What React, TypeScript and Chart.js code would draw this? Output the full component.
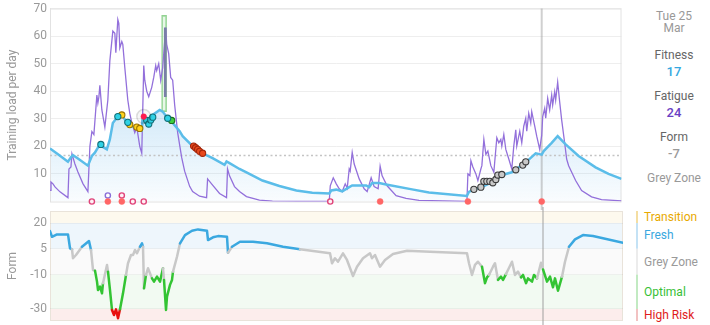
import React, { useEffect, useRef } from 'react';
import { Chart, registerables } from 'chart.js';

Chart.register(...registerables);

const FONT = "Roboto, 'Noto Sans', 'Liberation Sans', sans-serif";

// x = day index from the first day shown
const DAY_MAX = 286.5;
const HOVER_DAY = 246.5;
const HOVER_DATE = ['Tue 25', 'Mar'];
const FITNESS_NOW = 17;
const FATIGUE_NOW = 24;
const FORM_NOW = -7;
const ZONE_NOW = 'Grey Zone';

// Fatigue (ATL) – [day, load]
const fatigue: [number, number][] = [
  [0, 4.0], [0.5, 7.1], [1.5, 6.4], [2.5, 5.3], [5, 3.5], [9, 1.4], [9.5, 11.8], [10.5, 12.5], [11, 17.3],
  [12.5, 13.6], [14, 10.7], [16.5, 6.5], [19, 3.6], [20, 20], [21, 25.4], [22, 24.3], [23.5, 38.6], [24, 35.7],
  [24.5, 37.9], [25, 42.1], [26, 33.2], [27.5, 27], [29, 36.8], [30, 51], [31.5, 61.8], [32.5, 61], [33, 54],
  [34, 66], [34.5, 64.6], [35, 55.7], [36, 58], [36.5, 57], [37.5, 48.6], [39, 36.8], [40, 32], [41, 28.6],
  [42.5, 25], [43.5, 27], [45, 20], [46, 17.5], [47, 49.3], [47.5, 44], [48.5, 40], [49.5, 38], [51, 41.4],
  [52, 45], [53, 49.3], [53.5, 47.5], [54.5, 50], [55.5, 44], [56.5, 48.6], [58, 63], [58.5, 57], [59.5, 53.6],
  [60.5, 45], [61.5, 44], [62.5, 35], [64, 25], [66, 16], [67.5, 11], [70, 5.5], [71.5, 3.6], [75, 1.9],
  [78.5, 1.4], [79, 8.2], [81, 6.4], [85, 2.9], [88.5, 1.4], [89, 11.8], [90, 9.3], [92.5, 5.4], [95, 3.6],
  [98.5, 1.8], [105, 0.5], [111.5, 0.1], [140, 0], [140.5, 5.7], [142, 8.6], [143.5, 6.4], [145, 4.6],
  [146.5, 3.6], [148, 6.4], [149, 4.8], [150, 11.8], [150.5, 11], [151.5, 17.8], [152.5, 13.6], [155, 8.2],
  [157.5, 4.6], [159, 3.6], [161, 8.6], [162.5, 5.4], [164.5, 4.6], [165.5, 12.8], [166.5, 9.3], [169, 5.7],
  [173.5, 2.1], [178.5, 1.1], [185, 0.4], [209, 0], [209.5, 10], [210.5, 9.4], [211, 14.8], [212, 12.5],
  [213.5, 10], [214.5, 7.6], [216, 11.8], [216.5, 13], [217.5, 22.5], [218.5, 17.1], [219.5, 18.3], [221, 13],
  [222.5, 10.6], [224, 23.1], [225, 21.3], [226, 22.5], [226.5, 20.1], [227.5, 24.3], [228.5, 18.9], [230, 15.4],
  [231.5, 11.8], [232.5, 20.1], [233.5, 26], [234, 20.1], [235.5, 25.5], [236.5, 21.3], [237.5, 27.3],
  [238.5, 30.2], [239, 25.5], [240, 32], [241, 28.5], [241.5, 32.6], [243, 27.3], [244, 23.7], [245.5, 18.9],
  [246.5, 24], [247, 30.8], [248, 33.8], [248.5, 30.2], [249.5, 37.4], [250.5, 33.2], [251.5, 38.6], [252, 35],
  [253, 39.8], [253.5, 36.8], [254.5, 43.3], [255.5, 36.2], [256.5, 29.6], [258, 21.3], [259, 15.4], [260, 13],
  [263.5, 7.6], [266.5, 4], [271.5, 1.7], [276.5, 0.7], [286.5, 0.2],
];

// Fitness (CTL) – [day, load]
const fitness: [number, number][] = [
  [0, 19.2], [4, 17.1], [9, 14.4], [10.5, 16], [11.5, 16.8], [14, 15.6], [19, 13], [21, 16.5], [22.5, 17.7],
  [25, 20.7], [26.5, 19.8], [28.5, 18.9], [30, 22.5], [31.5, 28.5], [34, 30.8], [36, 31.4], [38.5, 28.7],
  [41, 27.3], [46, 25.8], [46.5, 30.8], [48.5, 29.4], [49.5, 27.9], [51.5, 31.4], [55, 33.2], [56.5, 32.6],
  [59, 30.2], [61.5, 28.5], [65, 25.5], [66.5, 23.7], [71.5, 20.1], [75, 19.2], [76.5, 17.5], [81.5, 15.7],
  [87.5, 13.3], [88.5, 14.5], [90, 13.9], [95, 11.8], [98.5, 10.6], [106.5, 7.6], [115, 5.6], [123.5, 4],
  [131.5, 3.2], [140, 2.9], [141, 4], [143.5, 4.3], [146.5, 3.7], [150, 5.2], [151.5, 5.8], [158.5, 5.8],
  [160, 5.2], [161.5, 6.7], [165, 6.7], [168.5, 6.2], [181.5, 4.4], [190, 3.3], [209, 2.0], [210, 3.5],
  [212.5, 4.4], [216.5, 5.2], [220, 6.5], [223.5, 8.2], [228.5, 10], [231.5, 10.6], [238.5, 14.2], [243.5, 17.5],
  [246.5, 17], [247.5, 18.3], [251.5, 21.3], [254.5, 23.7], [258.5, 20.7], [265, 16.5], [273.5, 12.4],
  [280, 10], [286.5, 8.2],
];

// Form (TSB) – [day, form]
const form: [number, number][] = [
  [0, 15.3], [1, 12], [3.5, 13.4], [9, 13.4], [10, 5.3], [11, 4.7], [11.5, -0.5], [13, 1.4], [16, 6.2],
  [19.5, 9.5], [20.5, 4.3], [21.5, -7.3], [22.5, -7.7], [23.5, -14.1], [24, -19], [25, -17], [26, -20.9],
  [26.5, -15], [28.5, -4.4], [29, -8.3], [30, -19], [31, -30.6], [32, -33.5], [33, -30.2], [34, -35.4],
  [35, -30.2], [36.5, -20.9], [38, -10.2], [39, -3.4], [40.5, 1.4], [41.5, 1.4], [42.5, 4.3], [43.5, 2.4],
  [45, 6.2], [46, 8.2], [46.5, 6.2], [47, -18], [48, -10.2], [49, -6.3], [51, -12.2], [52, -14.1],
  [53.5, -11.2], [55, -14.1], [56.5, -6.3], [57, -13.1], [58, -30.6], [58.5, -22.8], [60, -16], [61, -13.1],
  [61.5, -8.3], [63.5, 0.4], [65, 8.2], [67.5, 13], [71, 15.5], [74, 16.3], [78.5, 15.5], [79, 10.1],
  [81.5, 11.7], [84, 12.4], [88.5, 12], [89, 2.7], [91, 6.2], [95, 9.1], [101.5, 9.1], [108.5, 8.2],
  [116.5, 6.2], [125, 4.7], [140, 2.4], [141, -3.4], [142.5, -0.5], [144, -2.5], [146.5, 2.4], [148.5, -1.5],
  [151.5, -10.8], [153.5, -5.4], [156.5, -0.5], [160, 2.4], [161, -0.5], [162.5, 1.4], [165, -5.4],
  [167.5, -1.5], [171.5, 2], [178.5, 3.9], [190, 3.3], [208.5, 2.4], [209.5, -3.4], [211, -10.2], [212.5, -4.4],
  [214, -2.5], [216, -5.4], [217.5, -15], [218.5, -11.6], [219.5, -10.2], [221.5, -5.4], [222.5, -3.4],
  [224, -13.1], [225.5, -11.2], [226.5, -13.1], [228, -9.7], [231, -2.5], [232.5, -10.2], [234, -8.3],
  [235.5, -11.6], [236.5, -10.2], [238, -15], [239, -12.2], [241, -14.1], [242, -10.2], [243.5, -12.2],
  [245.5, -3.1], [246.5, -7], [248.5, -14.1], [250, -11.2], [251.5, -17.4], [252.5, -12.2], [254, -19.4],
  [256, -11.2], [257.5, -2.5], [259.5, 6.2], [262.5, 10.5], [266.5, 13], [271.5, 12.4], [286.5, 8.5],
];

// Activity markers on the fitness line – [day, load]
const cyanMarks: [number, number][] = [
  [25.5, 20.7], [34, 30.8], [39, 28.7], [48.5, 29.4], [49.5, 28.1], [50.5, 29.6], [51.5, 30.6], [59, 30.2],
];
const yellowMarks: [number, number][] = [[36, 31.4], [40, 27.9], [43.5, 27], [45, 26.5]];
const redMarks: [number, number][] = [[47, 30.8]];
const greenMarks: [number, number][] = [[61, 29.4]];
const orangeMarks: [number, number][] = [[72, 20.1], [73, 19.5], [74, 18.9], [75, 18.2], [76.5, 17.5]];
const greyMarks: [number, number][] = [
  [212.5, 4.4], [216, 5.2], [217.5, 7.3], [219, 7.3], [220.5, 7.3], [222, 6.8], [223.5, 8], [224.5, 9.6],
  [226.5, 9.8], [233.5, 11.5], [237, 13.2], [238.5, 14.4],
];

// Event markers along the bottom – days
const eventFilledDays = [29, 36, 165.5, 209.5, 246.5];
const eventHollowDays = [21, 41.5, 47, 140.5];
const eventUpperPurpleDays = [29];
const eventUpperPinkDays = [36];

// Range bars near the peak – [day, low, high]
const rangeBar: [number, number, number] = [57.2, 32.6, 67.5];
const innerBar: [number, number, number] = [57.8, 38, 63];

const loadTicks = [10, 20, 30, 40, 50, 60, 70];
const formTicks = [20, 5, -10, -30];
const FORM_MIN = -37;
const FORM_MAX = 27;

const zoneNames = ['Transition', 'Fresh', 'Grey Zone', 'Optimal', 'High Risk'];
const zoneUpper = [27, 20, 5, -10, -30];
const zoneLower = [20, 5, -10, -30, -37];
const zoneFill = ['#fdf9ee', '#eef6fc', '#fafafa', '#f2faf2', '#fcedec'];
const zoneBar = ['#f4dea2', '#c4e2f5', '#ececec', '#c2eac2', '#f2c2c2'];
const zoneText = ['#e8a900', '#3aa8e0', '#9a9a9a', '#36bf36', '#e01b1b'];
const zoneLine = ['#e8a900', '#3aa8e0', '#c8c8c8', '#33c433', '#e81010'];

const xy = (arr: [number, number][]) => arr.map(([x, y]) => ({ x, y }));

function zoneIndex(v: number) {
  for (let i = 0; i < zoneLower.length; i++) if (v >= zoneLower[i]) return i;
  return zoneLower.length - 1;
}

function marks(data: { x: number; y: number }[], fill: string, border: string, radius = 3.1, bw = 1.1) {
  return {
    type: 'line' as const,
    data,
    showLine: false,
    pointRadius: radius,
    pointBackgroundColor: fill,
    pointBorderColor: border,
    pointBorderWidth: bw,
    clip: false as any,
  };
}

const topDecor = {
  id: 'topDecor',
  beforeDatasetsDraw(chart: any) {
    const { ctx, chartArea: a, scales } = chart;
    ctx.save();
    ctx.strokeStyle = '#e2e2e2';
    ctx.lineWidth = 1;
    ctx.strokeRect(a.left + 0.5, a.top + 0.5, a.width - 1, a.height);
    const yy = Math.round(scales.y.getPixelForValue(FITNESS_NOW)) + 0.5;
    ctx.strokeStyle = '#c4c4c4';
    ctx.lineWidth = 1.5;
    ctx.setLineDash([2, 2.5]);
    ctx.beginPath();
    ctx.moveTo(a.left, yy);
    ctx.lineTo(a.right, yy);
    ctx.stroke();
    ctx.setLineDash([]);
    const xx = scales.x.getPixelForValue(HOVER_DAY);
    ctx.strokeStyle = 'rgba(150,150,150,0.45)';
    ctx.lineWidth = 2;
    ctx.beginPath();
    ctx.moveTo(xx, a.top);
    ctx.lineTo(xx, chart.height);
    ctx.stroke();
    ctx.restore();
  },
};

const bottomDecor = {
  id: 'bottomDecor',
  beforeDraw(chart: any) {
    const { ctx, chartArea: a, scales } = chart;
    const y = scales.y;
    ctx.save();
    for (let i = 0; i < zoneNames.length; i++) {
      const t = y.getPixelForValue(zoneUpper[i]);
      const b = y.getPixelForValue(zoneLower[i]);
      ctx.fillStyle = zoneFill[i];
      ctx.fillRect(a.left, t, a.width, b - t);
      ctx.fillStyle = zoneBar[i];
      ctx.fillRect(636, t, 2, b - t);
    }
    ctx.strokeStyle = '#e9e3da';
    ctx.lineWidth = 1;
    ctx.strokeRect(a.left + 0.5, a.top + 0.5, a.width - 1, a.height - 1);
    ctx.restore();
  },
  beforeDatasetsDraw(chart: any) {
    const { ctx, scales } = chart;
    const xx = scales.x.getPixelForValue(HOVER_DAY);
    ctx.save();
    ctx.strokeStyle = 'rgba(150,150,150,0.45)';
    ctx.lineWidth = 2;
    ctx.beginPath();
    ctx.moveTo(xx, 0);
    ctx.lineTo(xx, chart.height);
    ctx.stroke();
    ctx.restore();
  },
};

const axisFont = { family: FONT, size: 12 };

function topConfig(): any {
  const bottomRow = eventFilledDays.map((d) => ({ x: d, y: 0 }));
  const hollowRow = eventHollowDays.map((d) => ({ x: d, y: 0 }));
  const upperPurple = eventUpperPurpleDays.map((d) => ({ x: d, y: 2.2 }));
  const upperPink = eventUpperPinkDays.map((d) => ({ x: d, y: 2.2 }));
  return {
    type: 'line',
    data: {
      datasets: [
        marks(bottomRow, '#ff6666', '#ff6666', 3, 0.5),
        marks(hollowRow, '#fff0f4', '#e0457b', 2.6, 1.4),
        marks(upperPurple, '#ffffff', '#8a6fd8', 2.6, 1.4),
        marks(upperPink, '#fff0f4', '#e0457b', 2.6, 1.4),
        marks(xy(redMarks), '#ff1a4f', '#ff1a4f', 2.8, 0.5),
        marks(xy(redMarks), 'rgba(0,0,0,0.03)', 'rgba(0,0,0,0.13)', 7, 1.5),
        marks(xy(cyanMarks), '#2fd2e5', '#12707a'),
        marks(xy(yellowMarks), '#ffd21a', '#9a7400'),
        marks(xy(greenMarks), '#3ecf3e', '#1c6d1c'),
        marks(xy(orangeMarks), '#e8491d', '#a3260a'),
        marks(xy(greyMarks), '#c8c8c8', '#3a3a3a'),
        {
          type: 'line',
          data: xy(fitness),
          borderColor: '#5bbde9',
          borderWidth: 2.5,
          pointRadius: 0,
          tension: 0,
          fill: 'origin',
          backgroundColor: (c: any) => {
            const { chart } = c;
            const { chartArea, ctx } = chart;
            if (!chartArea) return 'rgba(110,185,235,0.12)';
            const g = ctx.createLinearGradient(0, chart.scales.y.getPixelForValue(34), 0, chartArea.bottom);
            g.addColorStop(0, 'rgba(110,185,235,0.30)');
            g.addColorStop(1, 'rgba(110,185,235,0.04)');
            return g;
          },
        },
        {
          type: 'bar',
          data: [{ x: innerBar[0], y: [innerBar[1], innerBar[2]] }],
          barThickness: 2,
          backgroundColor: '#7a7ea8',
          borderSkipped: false,
          grouped: false,
        },
        {
          type: 'line',
          data: xy(fatigue),
          borderColor: '#9370db',
          borderWidth: 1.3,
          pointRadius: 0,
          tension: 0,
          fill: false,
        },
        {
          type: 'bar',
          data: [{ x: rangeBar[0], y: [rangeBar[1], rangeBar[2]] }],
          barThickness: 5,
          backgroundColor: 'rgba(185,232,185,0.35)',
          borderColor: 'rgba(110,195,110,0.75)',
          borderWidth: 1,
          borderSkipped: false,
          grouped: false,
        },
      ],
    },
    options: {
      responsive: false,
      animation: false,
      events: [],
      layout: { padding: { top: 7, right: 7, bottom: 7, left: 0 } },
      plugins: { legend: { display: false }, tooltip: { enabled: false }, filler: { drawTime: 'beforeDatasetsDraw' } },
      scales: {
        x: { type: 'linear', min: 0, max: DAY_MAX, display: false, offset: false, grid: { offset: false } },
        y: {
          type: 'linear',
          min: 0,
          max: 70,
          afterBuildTicks: (s: any) => { s.ticks = loadTicks.map((v) => ({ value: v })); },
          afterFit: (s: any) => { s.width = 50; s.paddingTop = 0; s.paddingBottom = 0; },
          ticks: { color: '#999', font: axisFont, padding: 3 },
          grid: { color: '#eeeeee', drawTicks: false },
          border: { display: true, color: '#e2e2e2' },
          title: { display: true, text: 'Training load per day', color: '#999', font: axisFont, padding: { top: 6, bottom: 0 } },
        },
      },
    },
    plugins: [topDecor],
  };
}

function bottomConfig(): any {
  return {
    type: 'line',
    data: {
      datasets: [
        {
          data: xy(form),
          borderWidth: 2.5,
          pointRadius: 0,
          tension: 0,
          borderColor: '#c8c8c8',
          borderJoinStyle: 'round',
          borderCapStyle: 'round',
          segment: {
            borderColor: (c: any) => zoneLine[zoneIndex((c.p0.parsed.y + c.p1.parsed.y) / 2)],
          },
        },
      ],
    },
    options: {
      responsive: false,
      animation: false,
      events: [],
      layout: { padding: { top: 4, right: 17, bottom: 4, left: 0 } },
      plugins: { legend: { display: false }, tooltip: { enabled: false } },
      scales: {
        x: { type: 'linear', min: 0, max: DAY_MAX, display: false, offset: false },
        y: {
          type: 'linear',
          min: FORM_MIN,
          max: FORM_MAX,
          afterBuildTicks: (s: any) => { s.ticks = formTicks.map((v) => ({ value: v })); },
          afterFit: (s: any) => { s.width = 50; s.paddingTop = 0; s.paddingBottom = 0; },
          ticks: { color: '#999', font: axisFont, padding: 3 },
          grid: { color: 'rgba(0,0,0,0.045)', drawTicks: false },
          border: { display: false },
          title: { display: true, text: 'Form', color: '#999', font: axisFont, padding: { top: 6, bottom: 0 } },
        },
      },
    },
    plugins: [bottomDecor],
  };
}

function Txt(props: { text: string; top: number; left: number; width?: number; color: string; size?: number; weight?: number; align?: any }) {
  return (
    <div
      style={{
        position: 'absolute',
        top: props.top,
        left: props.left,
        width: props.width,
        textAlign: props.align || 'left',
        color: props.color,
        fontSize: props.size || 12,
        fontWeight: props.weight || 400,
        lineHeight: '16px',
        whiteSpace: 'nowrap',
        fontFamily: FONT,
      }}
    >
      {props.text}
    </div>
  );
}

const legendTops = [208.5, 227, 253.8, 283.5, 306.5];

export default function App() {
  const topRef = useRef<HTMLCanvasElement>(null);
  const botRef = useRef<HTMLCanvasElement>(null);

  useEffect(() => {
    const top = new Chart(topRef.current as HTMLCanvasElement, topConfig());
    const bot = new Chart(botRef.current as HTMLCanvasElement, bottomConfig());
    return () => {
      top.destroy();
      bot.destroy();
    };
  }, []);

  const formZone = zoneIndex(FORM_NOW);

  return (
    <div style={{ position: 'fixed', left: 0, top: 0, width: 710, height: 325, overflow: 'hidden', background: '#fff' }}>
      <canvas ref={topRef} width={630} height={210} style={{ position: 'absolute', left: 0, top: 0, width: 630, height: 210 }} />
      <canvas ref={botRef} width={640} height={118} style={{ position: 'absolute', left: 0, top: 207, width: 640, height: 118 }} />

      <Txt text={HOVER_DATE[0]} top={8.2} left={640} width={68} align="center" color="#999" />
      <Txt text={HOVER_DATE[1]} top={19.7} left={640} width={68} align="center" color="#999" />
      <Txt text="Fitness" top={46.7} left={640} width={68} align="center" color="#666" />
      <Txt text={String(FITNESS_NOW)} top={63.5} left={640} width={68} align="center" color="#35a7e0" size={13} weight={500} />
      <Txt text="Fatigue" top={88.2} left={640} width={68} align="center" color="#666" />
      <Txt text={String(FATIGUE_NOW)} top={104.9} left={640} width={68} align="center" color="#6a3fc4" size={13} weight={500} />
      <Txt text="Form" top={128.9} left={640} width={68} align="center" color="#666" />
      <Txt text={String(FORM_NOW)} top={145.5} left={640} width={68} align="center" color={zoneText[formZone]} size={13} weight={500} />
      <Txt text={ZONE_NOW} top={169.9} left={640} width={68} align="center" color="#999" />

      {zoneNames.map((z, i) => (
        <Txt key={z} text={z} top={legendTops[i]} left={644} color={zoneText[i]} />
      ))}
    </div>
  );
}
